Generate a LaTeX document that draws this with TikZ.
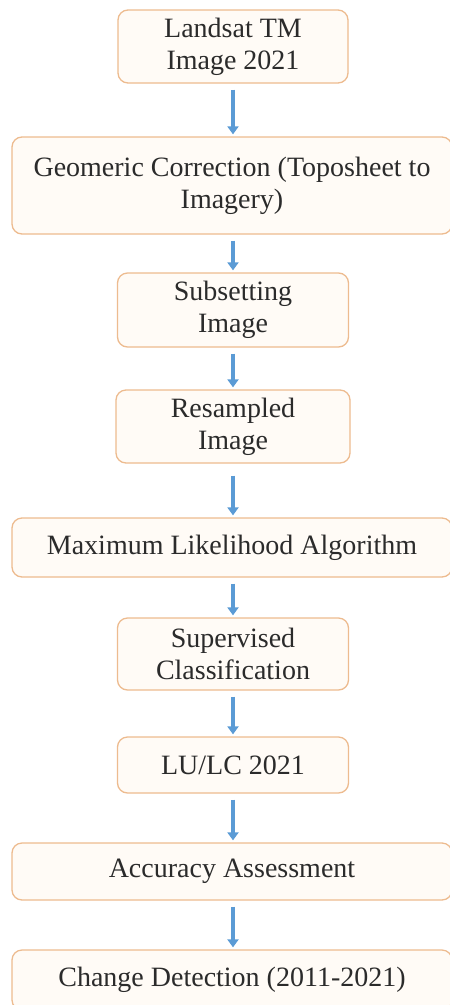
\documentclass[tikz,border=0pt]{standalone}
\usepackage{fontspec}
\setmainfont{Liberation Serif}
\usetikzlibrary{arrows.meta}
\definecolor{boxborder}{HTML}{EDBB8F}
\definecolor{boxfill}{HTML}{FFFBF6}
\definecolor{arrowblue}{HTML}{5B9BD5}
\definecolor{txt}{HTML}{2B2B2B}
\begin{document}
\begin{tikzpicture}[x=1pt,y=1pt,
  flowbox/.style={draw=boxborder, line width=1.3pt, fill=boxfill, rounded corners=10pt,
    text=txt, font=\fontsize{28}{32}\selectfont, align=center, inner sep=0pt},
  flowarrow/.style={draw=arrowblue, line width=3.5pt,
    -{Triangle[width=11pt,length=8pt]}, shorten <=6pt, shorten >=2pt}]
\useasboundingbox (0,0) rectangle (450,-1005);
\clip (0,0) rectangle (450,-1005);
\node[flowbox, minimum width=230, minimum height=73] (b1) at (233,-46.5) {Landsat TM\\Image 2021};
\node[flowbox, minimum width=440, minimum height=97] (b2) at (232,-185.5) {Geomeric Correction (Toposheet to\\Imagery)};
\node[flowbox, minimum width=231, minimum height=74] (b3) at (233,-310) {Subsetting\\Image};
\node[flowbox, minimum width=234, minimum height=73] (b4) at (233,-426.5) {Resampled\\Image};
\node[flowbox, minimum width=440, minimum height=59] (b5) at (232,-547.5) {Maximum Likelihood Algorithm};
\node[flowbox, minimum width=231, minimum height=72] (b6) at (233,-654) {Supervised\\Classification};
\node[flowbox, minimum width=231, minimum height=56] (b7) at (233,-765) {LU/LC 2021};
\node[flowbox, minimum width=440, minimum height=57] (b8) at (232,-871.5) {Accuracy Assessment};
\node[flowbox, minimum width=440, minimum height=60] (b9) at (232,-980) {Change Detection (2011-2021)};
\draw[flowarrow] (b1.south) -- (b1.south |- b2.north);
\draw[flowarrow] (b3.north |- b2.south) -- (b3.north);
\draw[flowarrow] (b3.south) -- (b4.north);
\draw[flowarrow, shorten <=12pt] (b4.south) -- (b4.south |- b5.north);
\draw[flowarrow] (b6.north |- b5.south) -- (b6.north);
\draw[flowarrow] (b6.south) -- (b7.north);
\draw[flowarrow] (b7.south) -- (b7.south |- b8.north);
\draw[flowarrow] (b7.south |- b8.south) -- (b7.south |- b9.north);
\end{tikzpicture}
\end{document}
